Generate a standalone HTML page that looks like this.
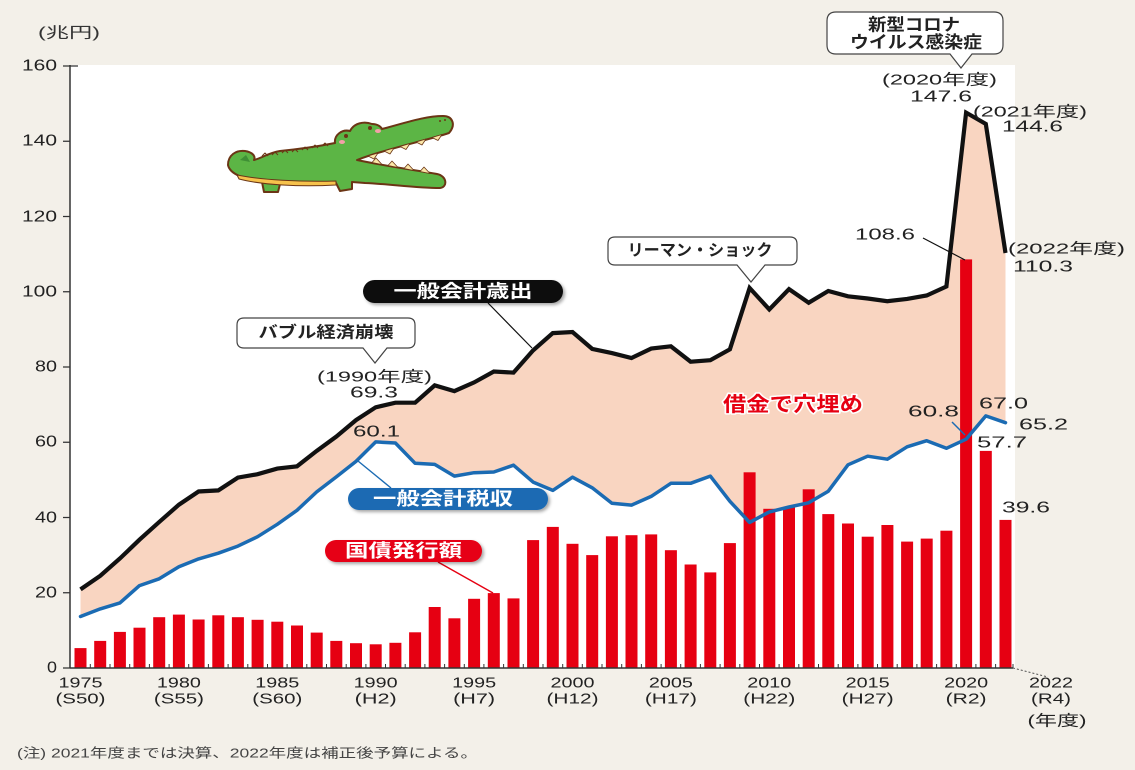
<!DOCTYPE html>
<html><head><meta charset="utf-8"><style>
html,body{margin:0;padding:0;background:#f3f0e9;}
svg{display:block;}
text{font-family:"Liberation Sans","Noto Sans CJK JP",sans-serif;}
</style></head><body>
<svg width="1135" height="770" viewBox="0 0 1135 770" xmlns="http://www.w3.org/2000/svg">
<defs>
<filter id="sh" x="-10%" y="-30%" width="130%" height="180%"><feDropShadow dx="2" dy="2" stdDeviation="1.5" flood-color="#000" flood-opacity="0.35"/></filter>
</defs>
<rect x="0" y="0" width="1135" height="770" fill="#f3f0e9"/>
<rect x="70" y="65" width="945" height="603" fill="#ffffff"/>

<polygon fill="#f9d5c1" points="80.5,589.4 100.2,575.8 119.9,558.5 139.5,539.7 159.2,522.0 178.9,504.7 198.6,491.5 218.3,490.4 237.9,477.6 257.6,474.2 277.3,468.6 297.0,466.3 316.7,450.9 336.3,436.6 356.0,420.1 375.7,407.3 395.4,402.7 415.1,402.7 434.7,385.4 454.4,391.1 474.1,382.4 493.8,371.5 513.5,372.6 533.1,350.4 552.8,333.1 572.5,332.0 592.2,348.9 611.9,353.1 631.5,358.0 651.2,348.6 670.9,346.3 690.6,361.7 710.3,360.2 729.9,349.3 749.6,288.0 769.3,309.4 789.0,289.1 808.7,302.7 828.3,291.0 848.0,296.3 867.7,298.5 887.4,301.2 907.1,298.9 926.7,295.5 946.4,286.5 966.1,112.6 985.8,123.9 1005.5,253.0 1005.5,422.7 985.8,415.9 966.1,439.2 946.4,448.3 926.7,440.7 907.1,446.8 887.4,459.2 867.7,456.2 848.0,464.8 828.3,491.2 808.7,502.8 789.0,507.0 769.3,511.9 749.6,522.4 729.9,501.3 710.3,476.1 690.6,483.3 670.9,483.3 651.2,496.4 631.5,505.1 611.9,503.2 592.2,487.8 572.5,477.2 552.8,490.4 533.1,482.1 513.5,465.2 493.8,472.0 474.1,472.7 454.4,476.1 434.7,464.4 415.1,463.3 395.4,443.0 375.7,441.9 356.0,461.4 336.3,476.9 316.7,491.9 297.0,510.3 277.3,524.3 257.6,536.7 237.9,546.1 218.3,553.2 198.6,558.9 178.9,566.8 159.2,578.8 139.5,585.6 119.9,602.9 100.2,608.9 80.5,616.5"/>

<g fill="#e60012">
<rect x="74.5" y="648.1" width="12" height="19.9"/>
<rect x="94.2" y="640.9" width="12" height="27.1"/>
<rect x="113.9" y="631.9" width="12" height="36.1"/>
<rect x="133.5" y="627.7" width="12" height="40.3"/>
<rect x="153.2" y="617.2" width="12" height="50.8"/>
<rect x="172.9" y="614.6" width="12" height="53.4"/>
<rect x="192.6" y="619.5" width="12" height="48.5"/>
<rect x="212.3" y="615.3" width="12" height="52.7"/>
<rect x="231.9" y="617.2" width="12" height="50.8"/>
<rect x="251.6" y="619.8" width="12" height="48.2"/>
<rect x="271.3" y="621.7" width="12" height="46.3"/>
<rect x="291.0" y="625.5" width="12" height="42.5"/>
<rect x="310.7" y="632.6" width="12" height="35.4"/>
<rect x="330.3" y="640.9" width="12" height="27.1"/>
<rect x="350.0" y="643.2" width="12" height="24.8"/>
<rect x="369.7" y="644.3" width="12" height="23.7"/>
<rect x="389.4" y="642.8" width="12" height="25.2"/>
<rect x="409.1" y="632.3" width="12" height="35.7"/>
<rect x="428.7" y="607.0" width="12" height="61.0"/>
<rect x="448.4" y="618.3" width="12" height="49.7"/>
<rect x="468.1" y="598.8" width="12" height="69.2"/>
<rect x="487.8" y="593.1" width="12" height="74.9"/>
<rect x="507.5" y="598.4" width="12" height="69.6"/>
<rect x="527.1" y="540.1" width="12" height="127.9"/>
<rect x="546.8" y="526.9" width="12" height="141.1"/>
<rect x="566.5" y="543.8" width="12" height="124.2"/>
<rect x="586.2" y="555.1" width="12" height="112.9"/>
<rect x="605.9" y="536.3" width="12" height="131.7"/>
<rect x="625.5" y="535.2" width="12" height="132.8"/>
<rect x="645.2" y="534.4" width="12" height="133.6"/>
<rect x="664.9" y="550.2" width="12" height="117.8"/>
<rect x="684.6" y="564.5" width="12" height="103.5"/>
<rect x="704.3" y="572.4" width="12" height="95.6"/>
<rect x="723.9" y="543.1" width="12" height="124.9"/>
<rect x="743.6" y="472.3" width="12" height="195.7"/>
<rect x="763.3" y="508.8" width="12" height="159.2"/>
<rect x="783.0" y="507.0" width="12" height="161.0"/>
<rect x="802.7" y="489.3" width="12" height="178.7"/>
<rect x="822.3" y="514.1" width="12" height="153.9"/>
<rect x="842.0" y="523.5" width="12" height="144.5"/>
<rect x="861.7" y="536.7" width="12" height="131.3"/>
<rect x="881.4" y="525.0" width="12" height="143.0"/>
<rect x="901.1" y="541.6" width="12" height="126.4"/>
<rect x="920.7" y="538.6" width="12" height="129.4"/>
<rect x="940.4" y="530.7" width="12" height="137.3"/>
<rect x="960.1" y="259.4" width="12" height="408.6"/>
<rect x="979.8" y="450.9" width="12" height="217.1"/>
<rect x="999.5" y="519.9" width="12" height="148.1"/>
</g>

<polyline fill="none" stroke="#1b6bb3" stroke-width="3.5" stroke-linejoin="round" stroke-linecap="round" points="80.5,616.5 100.2,608.9 119.9,602.9 139.5,585.6 159.2,578.8 178.9,566.8 198.6,558.9 218.3,553.2 237.9,546.1 257.6,536.7 277.3,524.3 297.0,510.3 316.7,491.9 336.3,476.9 356.0,461.4 375.7,441.9 395.4,443.0 415.1,463.3 434.7,464.4 454.4,476.1 474.1,472.7 493.8,472.0 513.5,465.2 533.1,482.1 552.8,490.4 572.5,477.2 592.2,487.8 611.9,503.2 631.5,505.1 651.2,496.4 670.9,483.3 690.6,483.3 710.3,476.1 729.9,501.3 749.6,522.4 769.3,511.9 789.0,507.0 808.7,502.8 828.3,491.2 848.0,464.8 867.7,456.2 887.4,459.2 907.1,446.8 926.7,440.7 946.4,448.3 966.1,439.2 985.8,415.9 1005.5,422.7"/>

<polyline fill="none" stroke="#111" stroke-width="4.2" stroke-linejoin="miter" stroke-miterlimit="2" points="80.5,589.4 100.2,575.8 119.9,558.5 139.5,539.7 159.2,522.0 178.9,504.7 198.6,491.5 218.3,490.4 237.9,477.6 257.6,474.2 277.3,468.6 297.0,466.3 316.7,450.9 336.3,436.6 356.0,420.1 375.7,407.3 395.4,402.7 415.1,402.7 434.7,385.4 454.4,391.1 474.1,382.4 493.8,371.5 513.5,372.6 533.1,350.4 552.8,333.1 572.5,332.0 592.2,348.9 611.9,353.1 631.5,358.0 651.2,348.6 670.9,346.3 690.6,361.7 710.3,360.2 729.9,349.3 749.6,288.0 769.3,309.4 789.0,289.1 808.7,302.7 828.3,291.0 848.0,296.3 867.7,298.5 887.4,301.2 907.1,298.9 926.7,295.5 946.4,286.5 966.1,112.6 985.8,123.9 1005.5,253.0"/>

<!-- axes -->
<g stroke="#333" fill="none">
<line x1="70" y1="65" x2="70" y2="668" stroke-width="1.5"/>
<line x1="70" y1="668" x2="1013" y2="668" stroke-width="1.5"/>
<path stroke-width="1.3" d="M63,66H78 M63,141.25H70 M63,216.5H70 M63,291.75H70 M63,367H70 M63,442.25H70 M63,517.5H70 M63,592.75H70 M63,668H70"/>
<path stroke-width="1" d="M90.3,664v4M110,664v4M129.7,664v4M149.4,664v4M169.1,664v4M188.7,664v4M208.4,664v4M228.1,664v4M247.8,664v4M267.5,664v4M287.1,664v4M306.8,664v4M326.5,664v4M346.2,664v4M365.9,664v4M385.5,664v4M405.2,664v4M424.9,664v4M444.6,664v4M464.3,664v4M483.9,664v4M503.6,664v4M523.3,664v4M543,664v4M562.7,664v4M582.3,664v4M602,664v4M621.7,664v4M641.4,664v4M661.1,664v4M680.7,664v4M700.4,664v4M720.1,664v4M739.8,664v4M759.5,664v4M779.1,664v4M798.8,664v4M818.5,664v4M838.2,664v4M857.9,664v4M877.5,664v4M897.2,664v4M916.9,664v4M936.6,664v4M956.3,664v4M975.9,664v4M995.6,664v4M1013,664v4"/>
<line x1="1013" y1="668" x2="1048" y2="677" stroke="#555" stroke-width="1" stroke-dasharray="2,2"/>
</g>

<!-- y labels -->
<g font-size="16" fill="#222" text-anchor="end" dominant-baseline="central">
<text x="57" y="66" textLength="35" lengthAdjust="spacingAndGlyphs">160</text>
<text x="57" y="141" textLength="35" lengthAdjust="spacingAndGlyphs">140</text>
<text x="57" y="217" textLength="35" lengthAdjust="spacingAndGlyphs">120</text>
<text x="57" y="292" textLength="35" lengthAdjust="spacingAndGlyphs">100</text>
<text x="57" y="367" textLength="22" lengthAdjust="spacingAndGlyphs">80</text>
<text x="57" y="442" textLength="22" lengthAdjust="spacingAndGlyphs">60</text>
<text x="57" y="518" textLength="22" lengthAdjust="spacingAndGlyphs">40</text>
<text x="57" y="593" textLength="22" lengthAdjust="spacingAndGlyphs">20</text>
<text x="57" y="668" textLength="10" lengthAdjust="spacingAndGlyphs">0</text>
</g>
<text x="38" y="33" font-size="15" fill="#333" dominant-baseline="central" textLength="62" lengthAdjust="spacingAndGlyphs">(兆円)</text>

<!-- x labels -->
<g font-size="15" fill="#222" text-anchor="middle" dominant-baseline="central">
<text x="80.5" y="683" textLength="44" lengthAdjust="spacingAndGlyphs">1975</text>
<text x="80.5" y="699" textLength="50" lengthAdjust="spacingAndGlyphs">(S50)</text>
<text x="178.9" y="683" textLength="44" lengthAdjust="spacingAndGlyphs">1980</text>
<text x="178.9" y="699" textLength="50" lengthAdjust="spacingAndGlyphs">(S55)</text>
<text x="277.3" y="683" textLength="44" lengthAdjust="spacingAndGlyphs">1985</text>
<text x="277.3" y="699" textLength="50" lengthAdjust="spacingAndGlyphs">(S60)</text>
<text x="375.7" y="683" textLength="44" lengthAdjust="spacingAndGlyphs">1990</text>
<text x="375.7" y="699" textLength="42" lengthAdjust="spacingAndGlyphs">(H2)</text>
<text x="474.1" y="683" textLength="44" lengthAdjust="spacingAndGlyphs">1995</text>
<text x="474.1" y="699" textLength="42" lengthAdjust="spacingAndGlyphs">(H7)</text>
<text x="572.5" y="683" textLength="44" lengthAdjust="spacingAndGlyphs">2000</text>
<text x="572.5" y="699" textLength="52" lengthAdjust="spacingAndGlyphs">(H12)</text>
<text x="670.9" y="683" textLength="44" lengthAdjust="spacingAndGlyphs">2005</text>
<text x="670.9" y="699" textLength="52" lengthAdjust="spacingAndGlyphs">(H17)</text>
<text x="769.3" y="683" textLength="44" lengthAdjust="spacingAndGlyphs">2010</text>
<text x="769.3" y="699" textLength="52" lengthAdjust="spacingAndGlyphs">(H22)</text>
<text x="867.7" y="683" textLength="44" lengthAdjust="spacingAndGlyphs">2015</text>
<text x="867.7" y="699" textLength="52" lengthAdjust="spacingAndGlyphs">(H27)</text>
<text x="966.1" y="683" textLength="44" lengthAdjust="spacingAndGlyphs">2020</text>
<text x="966.1" y="699" textLength="41" lengthAdjust="spacingAndGlyphs">(R2)</text>
<text x="1051" y="683" textLength="44" lengthAdjust="spacingAndGlyphs">2022</text>
<text x="1051" y="699" textLength="40" lengthAdjust="spacingAndGlyphs">(R4)</text>
<text x="1057" y="721" textLength="59" lengthAdjust="spacingAndGlyphs">(年度)</text>
</g>

<text x="17" y="753" font-size="13" fill="#444" dominant-baseline="central" textLength="461" lengthAdjust="spacingAndGlyphs">(注) 2021年度までは決算、2022年度は補正後予算による。</text>

<!-- callouts -->
<g fill="#fff" stroke="#444" stroke-width="1.2">
<path d="M244,318 H408 Q415,318 415,325 V341 Q415,348 408,348 H387 L375,363 L363,348 H244 Q237,348 237,341 V325 Q237,318 244,318 Z"/>
<path d="M615,237 H790 Q797,237 797,244 V258 Q797,265 790,265 H765 L751,282 L737,265 H615 Q608,265 608,258 V244 Q608,237 615,237 Z"/>
<path d="M836,12 H994 Q1003,12 1003,21 V45 Q1003,54 994,54 H972 L961,68 L950,54 H836 Q827,54 827,45 V21 Q827,12 836,12 Z"/>
</g>
<g fill="#222" text-anchor="middle" dominant-baseline="central" font-weight="bold">
<text x="326" y="333" font-size="16" textLength="135" lengthAdjust="spacingAndGlyphs">バブル経済崩壊</text>
<text x="700" y="251" font-size="16" textLength="145" lengthAdjust="spacingAndGlyphs">リーマン・ショック</text>
<text x="914" y="25" font-size="17" textLength="92" lengthAdjust="spacingAndGlyphs">新型コロナ</text>
<text x="916" y="42.5" font-size="17" textLength="132" lengthAdjust="spacingAndGlyphs">ウイルス感染症</text>
</g>

<!-- leaders -->
<line x1="488" y1="303" x2="532" y2="348" stroke="#111" stroke-width="1.2"/>
<line x1="358" y1="461" x2="391" y2="488" stroke="#1b6bb3" stroke-width="1.4"/>
<line x1="438" y1="562" x2="493" y2="593" stroke="#e60012" stroke-width="1.4"/>
<line x1="923" y1="238" x2="965" y2="260" stroke="#111" stroke-width="1.2"/>
<line x1="952" y1="422" x2="965" y2="435" stroke="#1b6bb3" stroke-width="1.5"/>

<!-- pills -->
<g filter="url(#sh)">
<rect x="363" y="280" width="200" height="23" rx="11.5" fill="#111"/>
<rect x="348" y="488" width="200" height="22" rx="11" fill="#1b6bb3"/>
<rect x="325" y="540" width="157" height="22" rx="11" fill="#e60012"/>
</g>
<g fill="#fff" font-weight="bold" text-anchor="middle" dominant-baseline="central" font-size="18">
<text x="463" y="291.5" textLength="139" lengthAdjust="spacingAndGlyphs">一般会計歳出</text>
<text x="443" y="499" textLength="140" lengthAdjust="spacingAndGlyphs">一般会計税収</text>
<text x="403.5" y="551" textLength="117" lengthAdjust="spacingAndGlyphs">国債発行額</text>
</g>

<text x="793" y="405" font-size="20" font-weight="bold" fill="#e60012" stroke="#fff" stroke-width="3" paint-order="stroke" stroke-linejoin="round" text-anchor="middle" dominant-baseline="central" textLength="140" lengthAdjust="spacingAndGlyphs">借金で穴埋め</text>

<!-- value annotations -->
<g fill="#222" dominant-baseline="central" text-anchor="middle">
<text x="374.5" y="377" font-size="15" textLength="115" lengthAdjust="spacingAndGlyphs">(1990年度)</text>
<text x="374" y="393" font-size="16" textLength="48" lengthAdjust="spacingAndGlyphs">69.3</text>
<text x="376.5" y="432" font-size="16" textLength="47" lengthAdjust="spacingAndGlyphs">60.1</text>
<text x="939.5" y="80" font-size="15" textLength="115" lengthAdjust="spacingAndGlyphs">(2020年度)</text>
<text x="941" y="97" font-size="16" textLength="62" lengthAdjust="spacingAndGlyphs">147.6</text>
<text x="1030" y="112" font-size="15" textLength="114" lengthAdjust="spacingAndGlyphs">(2021年度)</text>
<text x="1032.5" y="127" font-size="16" textLength="61" lengthAdjust="spacingAndGlyphs">144.6</text>
<text x="885" y="235" font-size="16" textLength="60" lengthAdjust="spacingAndGlyphs">108.6</text>
<text x="1066.5" y="249" font-size="15" textLength="117" lengthAdjust="spacingAndGlyphs">(2022年度)</text>
<text x="1043" y="267" font-size="16" textLength="60" lengthAdjust="spacingAndGlyphs">110.3</text>
<text x="933.5" y="412" font-size="16" textLength="51" lengthAdjust="spacingAndGlyphs">60.8</text>
<text x="1003.5" y="404" font-size="16" textLength="49" lengthAdjust="spacingAndGlyphs">67.0</text>
<text x="1043.5" y="425" font-size="16" textLength="49" lengthAdjust="spacingAndGlyphs">65.2</text>
<text x="1002" y="443" font-size="16" textLength="50" lengthAdjust="spacingAndGlyphs">57.7</text>
<text x="1026" y="508" font-size="16" textLength="48" lengthAdjust="spacingAndGlyphs">39.6</text>
</g>

<!-- crocodile -->
<g stroke-linejoin="round">
<path fill="#5cb545" stroke="#6b3515" stroke-width="2" d="M228,165 C228,155 236,150 245,151 C252,152 256,156 254,160 C262,158 268,153 280,151 C300,149 320,146 335,143 C334,135 342,129 350,131 C354,123 364,121 372,124 C378,124 381,127 382,129 C405,123 425,116 443,116 C453,116 456,125 449,133 C425,141 385,149 357,160 C385,166 415,170 437,174 C447,176 448,187 440,188 C415,188 390,184 365,183 L352,182 L352,189 L340,191 L336,183 C315,185 295,185 280,184 L278,192 L264,192 L262,182 C246,179 230,175 228,165 Z"/>
<path fill="#f6c24c" stroke="#6b3515" stroke-width="1" d="M237,175 C262,180 300,182 336,181 L336,185 C300,187 262,185 239,179 Z"/>
<path fill="#3f8f35" d="M240,160 L246,155 L250,162 Z"/>
<g fill="#fbe7a8" stroke="#6b3515" stroke-width="0.8">
<polygon points="368,156 378,153 374,159"/>
<polygon points="384,151 394,148 390,154"/>
<polygon points="400,146.5 410,143.5 406,149.5"/>
<polygon points="416,142 426,139 422,145"/>
<polygon points="432,137.5 442,134.5 438,140.5"/>
<polygon points="372,162.5 382,164.5 376,158"/>
<polygon points="388,165.5 398,167.5 392,161"/>
<polygon points="404,168.5 414,170.5 408,164"/>
<polygon points="420,171.5 430,173.5 424,167"/>
</g>
<g fill="#6b3515">
<circle cx="346" cy="136" r="2"/>
<circle cx="370" cy="128" r="2"/>
<circle cx="440" cy="121" r="1"/>
<circle cx="445" cy="120" r="1"/>
<path d="M262,156 l3,-3 l3,3 M272,155 l3,-3 l3,3 M282,153 l3,-3 l3,3 M292,152 l3,-3 l3,3 M302,150 l3,-3 l3,3 M312,148 l3,-3 l3,3 M322,146 l3,-3 l3,3" fill="none" stroke="#6b3515" stroke-width="1"/>
</g>
<g fill="#f4a0a8">
<ellipse cx="342" cy="142" rx="3" ry="2"/>
<ellipse cx="378" cy="131" rx="3" ry="2"/>
</g>
</g>
</svg>
</body></html>
